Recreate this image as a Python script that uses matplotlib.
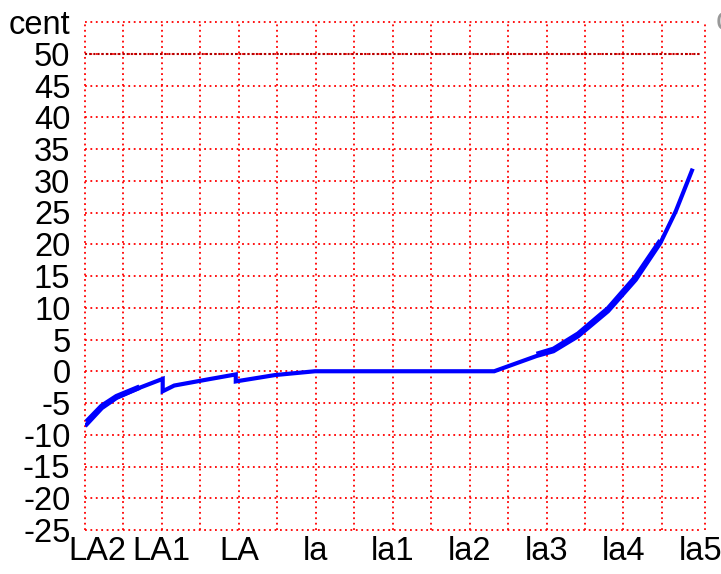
import matplotlib
matplotlib.use("Agg")
import matplotlib.pyplot as plt
import matplotlib.transforms as mtransforms
import numpy as np

# data
x_vals = [0.02, 0.22, 0.41, 0.71, 1.01, 1.01, 1.16, 1.59, 1.96, 1.96, 2.47, 2.99,
          5.32, 5.87, 6.09, 6.41, 6.80, 7.16, 7.48, 7.68, 7.89]
y_vals = [-8.4, -5.8, -4.2, -2.6, -1.2, -3.15, -2.25, -1.3, -0.5, -1.6, -0.6, 0.0,
          0.0, 2.4, 3.15, 5.5, 9.45, 14.4, 20.2, 25.2, 31.6]
# second, nearly overlapping series (visible as thicker stretches)
x2_vals = [0.02, 0.22, 0.41, 0.71]
y2_vals = [-8.0, -5.5, -4.0, -2.5]
x3_vals = [5.87, 6.09, 6.41, 6.80, 7.16, 7.48]
y3_vals = [2.7, 3.5, 5.9, 9.9, 14.9, 20.6]

x_tick_pos = [0, 1, 2, 3, 4, 5, 6, 7, 8]
x_tick_labels = ["LA2", "LA1", "LA", "la", "la1", "la2", "la3", "la4", "la5"]
y_ticks = list(range(-25, 56, 5))
y_tick_labels = [str(v) for v in y_ticks[:-1]] + ["cent"]

plt.rcParams['font.family'] = ['Liberation Sans', 'DejaVu Sans']

fig = plt.figure(figsize=(7.21, 5.74), dpi=100)
ax = fig.add_axes([85/721, 1 - 530/574, (705 - 85)/721, (530 - 22)/574])

XMAX = 8.06
ax.set_xlim(0, XMAX)
ax.set_ylim(-25, 55)

for s in ax.spines.values():
    s.set_visible(False)

ax.set_xticks(x_tick_pos)
ax.set_xticklabels(x_tick_labels)
ax.set_yticks(y_ticks)
ax.set_yticklabels(y_tick_labels)
ax.tick_params(axis='both', which='both', length=0, labelsize=23.5)
ax.tick_params(axis='y', pad=10.5)
ax.tick_params(axis='x', pad=4)

# first x label sits a little to the right in the reference
first = ax.get_xticklabels()[0]
first.set_transform(first.get_transform() + mtransforms.ScaledTranslation(12/100, 0, fig.dpi_scale_trans))

grid_kw = dict(color='#ff0000', linestyle=(0, (1, 2)), linewidth=1.3, zorder=1, clip_on=False)
ax.hlines(y_ticks, 0, 8.0, **grid_kw)
vx = list(np.arange(0, 7.51, 0.5)) + [XMAX]
ax.vlines(vx, -25, 55, **grid_kw)
ax.hlines([50], 0, 8.0, color='#b00000', linestyle=(0, (1, 1)), linewidth=1.5, zorder=2)

ax.plot(x2_vals, y2_vals, color='#0000ff', linewidth=4.0, solid_capstyle='butt', zorder=3)
ax.plot(x3_vals, y3_vals, color='#0000ff', linewidth=3.5, solid_capstyle='butt', zorder=3)
ax.plot(x_vals, y_vals, color='#0000ff', linewidth=3.0, solid_joinstyle='miter', zorder=3)

fig.text(716/721, 1 - 22/574, "cent", fontsize=23.5, ha='left', va='center', color='#999999')

fig.savefig("out.png", dpi=100)
